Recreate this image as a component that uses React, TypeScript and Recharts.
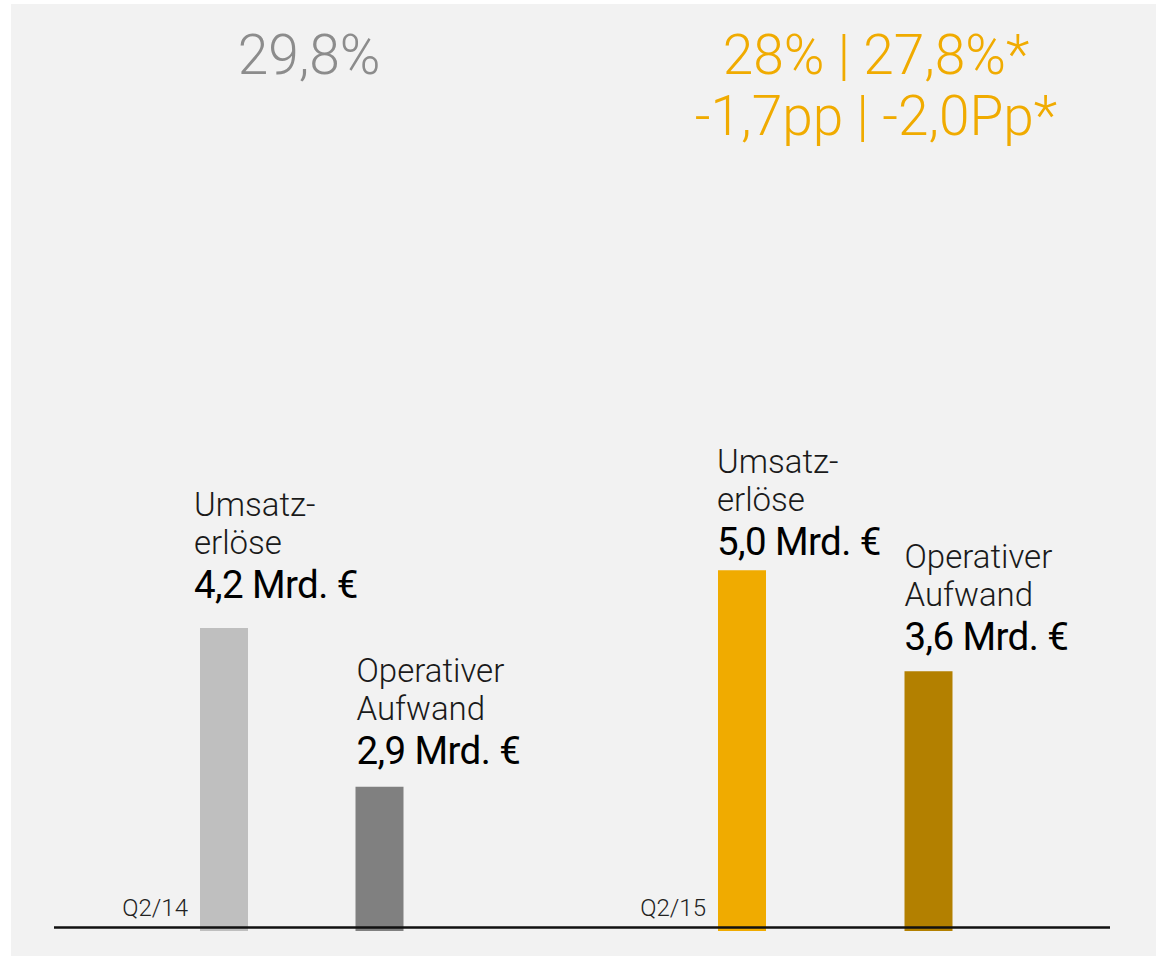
import React from "react";
import { BarChart, Bar, XAxis, YAxis, Cell, LabelList } from "recharts";

// ---- data ----
const quarters = ["Q2/14", "Q2/15"];
const umsatzValues = [4.2, 5.0];
const aufwandValues = [2.0, 3.6];
const umsatzValueLabels = ["4,2 Mrd. €", "5,0 Mrd. €"];
const aufwandValueLabels = ["2,9 Mrd. €", "3,6 Mrd. €"];
const umsatzTitle = ["Umsatz-", "erlöse"];
const aufwandTitle = ["Operativer", "Aufwand"];
const marginLines = [["29,8%"], ["28% | 27,8%*", "-1,7pp | -2,0Pp*"]];

const data = quarters.map((q, i) => ({
  quarter: q,
  umsatz: umsatzValues[i],
  aufwand: aufwandValues[i],
}));

// ---- styles ----
const umsatzColors = ["#bfbfbf", "#f0ab00"];
const aufwandColors = ["#808080", "#b38000"];
const marginColors = ["#8c8c8c", "#f0ab00"];
const marginCenters = [309, 876];
const LIGHT = "'Roboto', 'Liberation Sans', sans-serif";
const umsatzGap = [30, 15];
const aufwandGap = [23, 21];
const umsatzDx = [-6, -1];
const aufwandDx = [1, 0];

const makeLabel = (title: string[], values: string[], gaps: number[], dxs: number[]) => (props: any) => {
  const vb = props.viewBox || props;
  const i = props.index ?? 0;
  const x = (vb.x ?? props.x) + dxs[i];
  const top = vb.y ?? props.y;
  const base = top - gaps[i];
  return (
    <g>
      <text x={x} y={base - 82} fontFamily={LIGHT} fontWeight={300} fontSize={33} fill="#1a1a1a">
        {title[0]}
      </text>
      <text x={x} y={base - 44} fontFamily={LIGHT} fontWeight={300} fontSize={33} fill="#1a1a1a">
        {title[1]}
      </text>
      <text x={x} y={base} fontFamily={LIGHT} fontWeight={400} fontSize={38.5} fill="#000" letterSpacing={-0.6}>
        {values[i]}
      </text>
    </g>
  );
};

const QuarterTick = (props: any) => {
  const { x, y, payload } = props;
  return (
    <text x={x - 36} y={y - 15} textAnchor="end" fontFamily={LIGHT} fontWeight={300} fontSize={24} fill="#222">
      {payload.value}
    </text>
  );
};

export default function App() {
  return (
    <div style={{ position: "absolute", left: 0, top: 0, width: 1156, height: 956, background: "#fff", overflow: "hidden" }}>
      <div style={{ position: "absolute", left: 11, top: 4, width: 1145, height: 952, background: "#f2f2f2" }} />
      <div style={{ position: "absolute", left: 0, top: 0 }}>
        <BarChart width={1156} height={956} data={data} margin={{ top: 65, right: 46, bottom: 15, left: 54 }}>
          <YAxis hide domain={[0, 12]} type="number" />
          <XAxis
            xAxisId="b"
            dataKey="quarter"
            type="category"
            scale="point"
            hide
            padding={{ left: 325, right: 182 }}
          />
          <XAxis
            xAxisId="a"
            dataKey="quarter"
            type="category"
            scale="point"
            height={10}
            tickSize={0}
            tickMargin={0}
            tickLine={false}
            interval={0}
            padding={{ left: 170, right: 368 }}
            axisLine={{ stroke: "#111", strokeWidth: 2.6, transform: "translate(0,-3.5)" }}
            tick={<QuarterTick />}
          />
          <Bar dataKey="umsatz" xAxisId="a" barSize={48} isAnimationActive={false}>
            {data.map((_, i) => (
              <Cell key={i} fill={umsatzColors[i]} />
            ))}
            <LabelList dataKey="umsatz" content={makeLabel(umsatzTitle, umsatzValueLabels, umsatzGap, umsatzDx)} />
          </Bar>
          <Bar dataKey="aufwand" xAxisId="b" barSize={48} isAnimationActive={false}>
            {data.map((_, i) => (
              <Cell key={i} fill={aufwandColors[i]} />
            ))}
            <LabelList dataKey="aufwand" content={makeLabel(aufwandTitle, aufwandValueLabels, aufwandGap, aufwandDx)} />
          </Bar>
        </BarChart>
      </div>
      <svg style={{ position: "absolute", left: 0, top: 0 }} width={1156} height={956}>
        {marginLines.map((lines, g) =>
          lines.map((t, j) => (
            <text
              key={`${g}-${j}`}
              x={marginCenters[g]}
              y={74 + j * 61}
              textAnchor="middle"
              fontFamily={LIGHT}
              fontWeight={300}
              fontSize={55}
              fill={marginColors[g]}
            >
              {t}
            </text>
          ))
        )}
      </svg>
    </div>
  );
}
